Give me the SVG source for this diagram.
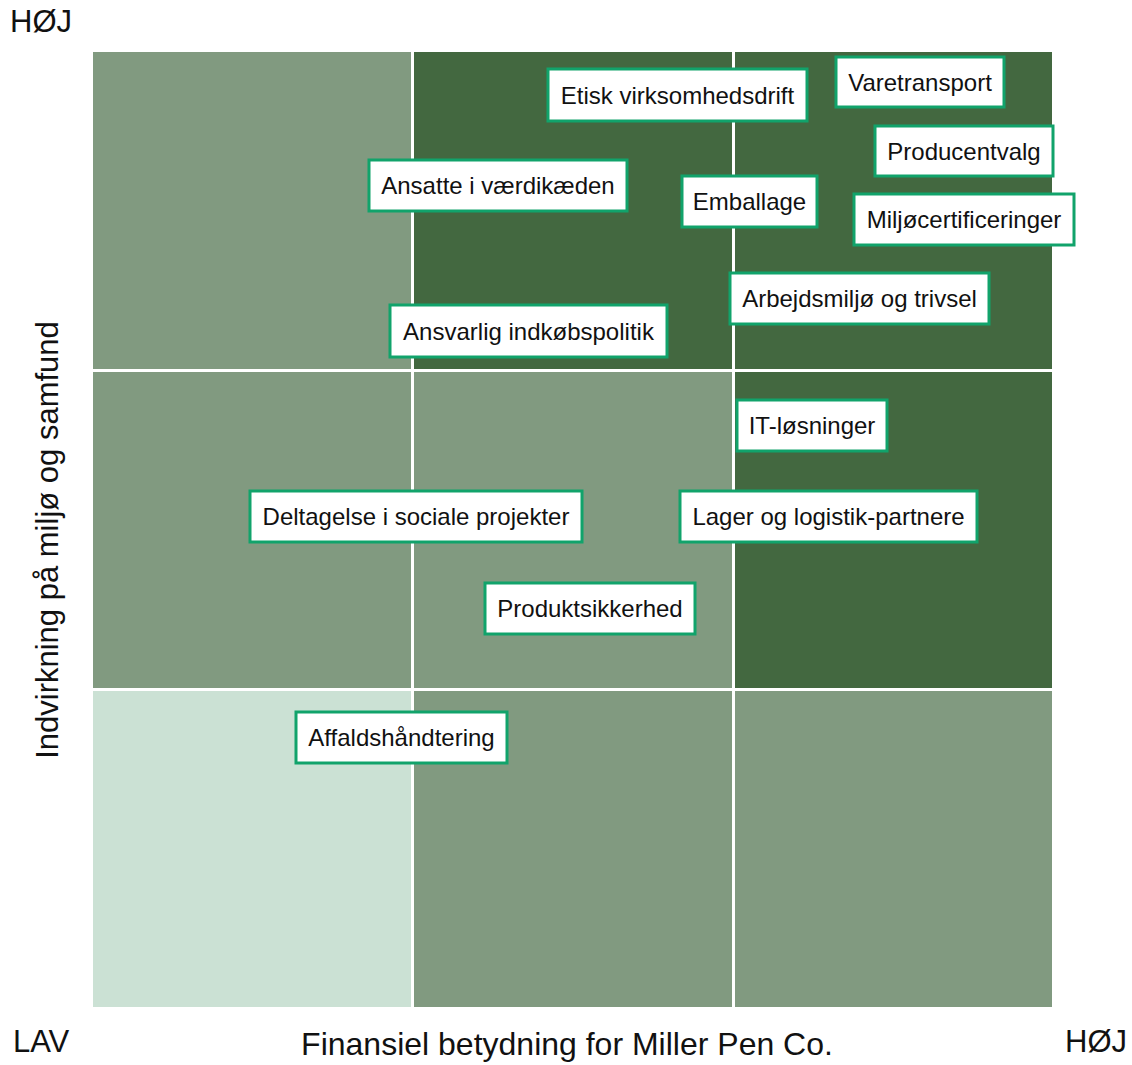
<svg xmlns="http://www.w3.org/2000/svg" width="1132" height="1065" viewBox="0 0 1132 1065">
<style>
.mid{fill:#819A80}
.dark{fill:#436840}
.light{fill:#CBE1D4}
.grid{stroke:#FFFFFF;stroke-width:3}
.box{fill:#FFFFFF;stroke:#11A36B;stroke-width:3}
.lbl{font-family:"Liberation Sans",Arial,Helvetica,sans-serif;font-size:24px;fill:#111111;text-anchor:middle}
.axis{font-family:"Liberation Sans",Arial,Helvetica,sans-serif;font-size:31px;fill:#111111}
</style>
<rect width="1132" height="1065" fill="#FFFFFF"/>
<g id="matrix">
<rect class="mid" x="93" y="52" width="320" height="319"/>
<rect class="dark" x="413" y="52" width="321" height="319"/>
<rect class="dark" x="734" y="52" width="318" height="319"/>
<rect class="mid" x="93" y="371" width="320" height="319"/>
<rect class="mid" x="413" y="371" width="321" height="319"/>
<rect class="dark" x="734" y="371" width="318" height="319"/>
<rect class="light" x="93" y="690" width="320" height="317"/>
<rect class="mid" x="413" y="690" width="321" height="317"/>
<rect class="mid" x="734" y="690" width="318" height="317"/>
<line class="grid" x1="412.5" y1="52" x2="412.5" y2="1007"/>
<line class="grid" x1="733.5" y1="52" x2="733.5" y2="1007"/>
<line class="grid" x1="93" y1="370.5" x2="1052" y2="370.5"/>
<line class="grid" x1="93" y1="689.5" x2="1052" y2="689.5"/>
</g>
<g id="axes">
<text class="axis" x="10" y="32">HØJ</text>
<text class="axis" x="13" y="1052">LAV</text>
<text class="axis" x="1127" y="1052" text-anchor="end">HØJ</text>
<text class="axis" x="567" y="1055" text-anchor="middle" style="font-size:32px">Finansiel betydning for Miller Pen Co.</text>
<text class="axis" transform="translate(58,540) rotate(-90)" text-anchor="middle">Indvirkning på miljø og samfund</text>
</g>
<g id="connectors"></g>
<g id="n-etisk"><rect class="box" x="548" y="69" width="259" height="52"/><text class="lbl" x="677.5" y="103.5">Etisk virksomhedsdrift</text></g>
<g id="n-varetransport"><rect class="box" x="836" y="57" width="168" height="50"/><text class="lbl" x="920" y="90.5">Varetransport</text></g>
<g id="n-producentvalg"><rect class="box" x="875" y="126" width="178" height="50"/><text class="lbl" x="964" y="159.5">Producentvalg</text></g>
<g id="n-emballage"><rect class="box" x="682" y="176" width="135" height="51"/><text class="lbl" x="749.5" y="210">Emballage</text></g>
<g id="n-miljoe"><rect class="box" x="854" y="194" width="220" height="51"/><text class="lbl" x="964" y="228">Miljøcertificeringer</text></g>
<g id="n-ansatte"><rect class="box" x="369" y="160" width="258" height="51"/><text class="lbl" x="498" y="194">Ansatte i værdikæden</text></g>
<g id="n-arbejdsmiljoe"><rect class="box" x="730" y="273" width="259" height="51"/><text class="lbl" x="859.5" y="307">Arbejdsmiljø og trivsel</text></g>
<g id="n-ansvarlig"><rect class="box" x="390" y="305" width="277" height="52"/><text class="lbl" x="528.5" y="339.5">Ansvarlig indkøbspolitik</text></g>
<g id="n-it"><rect class="box" x="737" y="400" width="150" height="51"/><text class="lbl" x="812" y="434">IT-løsninger</text></g>
<g id="n-deltagelse"><rect class="box" x="250" y="491" width="332" height="51"/><text class="lbl" x="416" y="525">Deltagelse i sociale projekter</text></g>
<g id="n-lager"><rect class="box" x="680" y="491" width="297" height="51"/><text class="lbl" x="828.5" y="525">Lager og logistik-partnere</text></g>
<g id="n-produktsikkerhed"><rect class="box" x="485" y="583" width="210" height="51"/><text class="lbl" x="590" y="617">Produktsikkerhed</text></g>
<g id="n-affald"><rect class="box" x="296" y="712" width="211" height="51"/><text class="lbl" x="401.5" y="746">Affaldshåndtering</text></g>
</svg>
